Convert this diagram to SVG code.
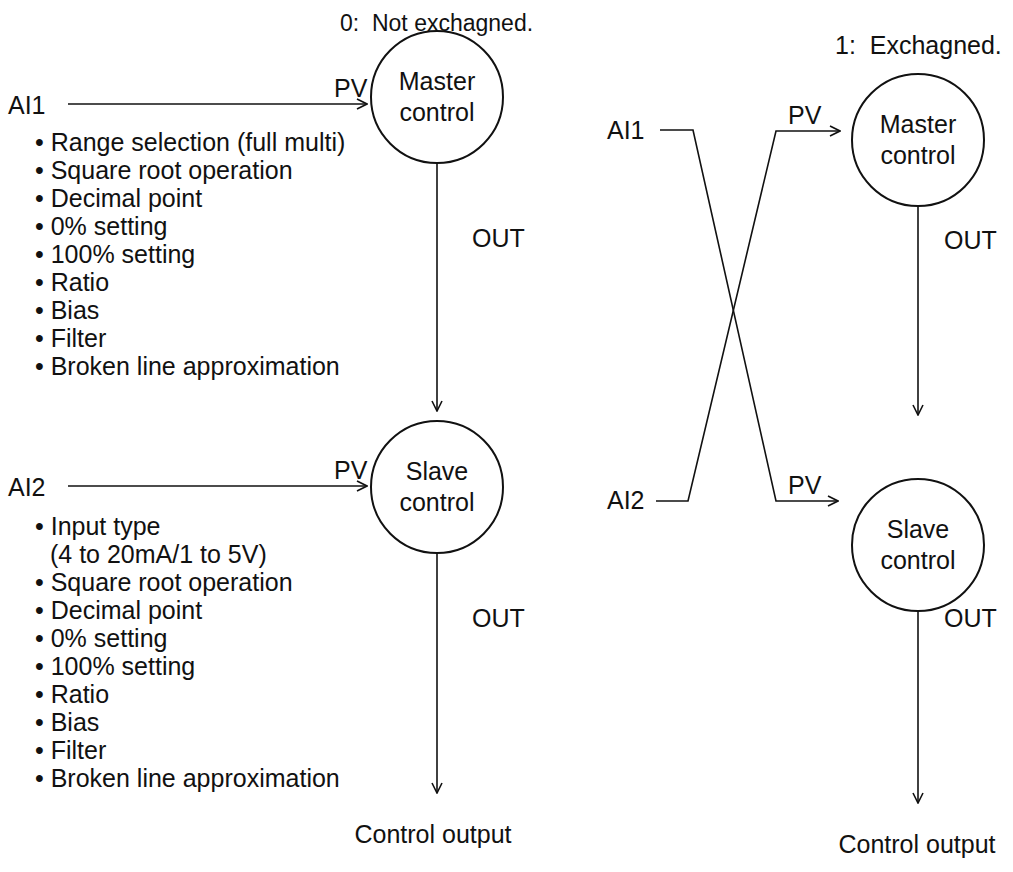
<svg xmlns="http://www.w3.org/2000/svg" width="1013" height="872" viewBox="0 0 1013 872">
<defs>
<style>
text{font-family:"Liberation Sans",Arial,sans-serif;font-size:25px;fill:#111}
.c{text-anchor:middle}
.t1{font-size:23px}
.t2{font-size:25px}
.ln{fill:none;stroke:#111;stroke-width:1.6}
.nd{fill:#fff;stroke:#111;stroke-width:2}
</style>
<marker id="ah" viewBox="0 0 12 12" refX="11" refY="6" markerWidth="12" markerHeight="12" markerUnits="userSpaceOnUse" orient="auto">
<path d="M1,1 L11,6 L1,11" fill="none" stroke="#111" stroke-width="1.6"/>
</marker>
</defs>
<rect width="1013" height="872" fill="#fff"/>
<text class="t1" x="340" y="31">0:&#160; Not exchagned.</text>
<text class="t2" x="835" y="54">1:&#160; Exchagned.</text>

<g id="connectors">
<path class="ln" d="M68,104 L367,104" marker-end="url(#ah)"/>
<path class="ln" d="M437,163 L437,411" marker-end="url(#ah)"/>
<path class="ln" d="M68,486 L367,486" marker-end="url(#ah)"/>
<path class="ln" d="M437,553 L437,793" marker-end="url(#ah)"/>
<path class="ln" d="M660,130 L693,130 L776,501 L838,501" marker-end="url(#ah)"/>
<path class="ln" d="M656,501 L688,501 L776,131 L840,131" marker-end="url(#ah)"/>
<path class="ln" d="M918,206 L918,415" marker-end="url(#ah)"/>
<path class="ln" d="M918,611 L918,803" marker-end="url(#ah)"/>
</g>

<g id="labels">
<text x="8" y="114">AI1</text>
<text x="334" y="97">PV</text>
<text x="472" y="247">OUT</text>
<text x="8" y="496">AI2</text>
<text x="334" y="479">PV</text>
<text x="472" y="627">OUT</text>
<text class="c" x="433" y="843">Control output</text>
<text x="607" y="139">AI1</text>
<text x="607" y="509">AI2</text>
<text x="788" y="124">PV</text>
<text x="788" y="494">PV</text>
<text x="944" y="249">OUT</text>
<text x="944" y="627">OUT</text>
<text class="c" x="917" y="853">Control output</text>
</g>

<g id="list1">
<text x="35" y="151">• Range selection (full multi)</text>
<text x="35" y="179">• Square root operation</text>
<text x="35" y="207">• Decimal point</text>
<text x="35" y="235">• 0% setting</text>
<text x="35" y="263">• 100% setting</text>
<text x="35" y="291">• Ratio</text>
<text x="35" y="319">• Bias</text>
<text x="35" y="347">• Filter</text>
<text x="35" y="375">• Broken line approximation</text>
</g>
<g id="list2">
<text x="35" y="535">• Input type</text>
<text x="50" y="563">(4 to 20mA/1 to 5V)</text>
<text x="35" y="591">• Square root operation</text>
<text x="35" y="619">• Decimal point</text>
<text x="35" y="647">• 0% setting</text>
<text x="35" y="675">• 100% setting</text>
<text x="35" y="703">• Ratio</text>
<text x="35" y="731">• Bias</text>
<text x="35" y="759">• Filter</text>
<text x="35" y="787">• Broken line approximation</text>
</g>

<g id="master-left">
<circle class="nd" cx="437" cy="97" r="66"/>
<text class="c" x="437" y="90">Master</text>
<text class="c" x="437" y="121">control</text>
</g>
<g id="slave-left">
<circle class="nd" cx="437" cy="487" r="66"/>
<text class="c" x="437" y="480">Slave</text>
<text class="c" x="437" y="511">control</text>
</g>
<g id="master-right">
<circle class="nd" cx="918" cy="140" r="66"/>
<text class="c" x="918" y="133">Master</text>
<text class="c" x="918" y="164">control</text>
</g>
<g id="slave-right">
<circle class="nd" cx="918" cy="545" r="66"/>
<text class="c" x="918" y="538">Slave</text>
<text class="c" x="918" y="569">control</text>
</g>
</svg>
